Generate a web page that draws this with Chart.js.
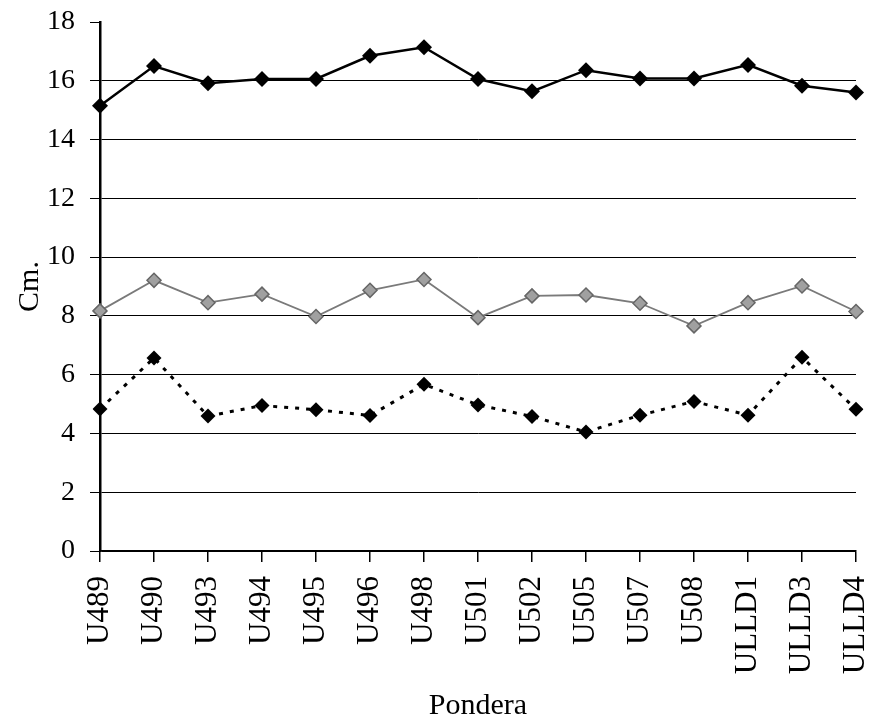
<!DOCTYPE html>
<html>
<head>
<meta charset="utf-8">
<script src="https://cdn.jsdelivr.net/npm/chart.js@4"></script>
<style>
  html, body { margin: 0; padding: 0; background: #fff; }
  #wrap { width: 871px; height: 727px; }
</style>
</head>
<body>
<div id="wrap"><canvas id="grafico"></canvas></div>
<script>
const categorias = ["U489", "U490", "U493", "U494", "U495", "U496", "U498", "U501",
  "U502", "U505", "U507", "U508", "ULLD1", "ULLD3", "ULLD4"];
const serieAlta = [15.15, 16.5, 15.92, 16.06, 16.06, 16.85, 17.14, 16.06,
  15.64, 16.36, 16.08, 16.08, 16.54, 15.83, 15.6];
const serieMedia = [8.17, 9.21, 8.45, 8.74, 7.98, 8.87, 9.24, 7.94,
  8.68, 8.71, 8.43, 7.66, 8.45, 9.02, 8.15];
const serieBaixa = [4.83, 6.57, 4.59, 4.95, 4.81, 4.61, 5.67, 4.97,
  4.58, 4.05, 4.62, 5.09, 4.62, 6.59, 4.82];
const ticksY = [0, 2, 4, 6, 8, 10, 12, 14, 16, 18];

const fonte = "'Liberation Serif', 'Times New Roman', serif";
const ctx = document.getElementById("grafico");

new Chart(ctx, {
  type: "line",
  data: {
    labels: categorias,
    datasets: [
      {
        label: "alta",
        data: serieAlta,
        borderColor: "#000",
        backgroundColor: "#000",
        borderWidth: 2.5,
        pointStyle: "rectRot",
        pointRadius: 8,
        pointBorderWidth: 0,
      },
      {
        label: "media",
        data: serieMedia,
        borderColor: "#7a7a7a",
        backgroundColor: "#a0a0a0",
        pointBorderColor: "#666",
        borderWidth: 1.8,
        pointStyle: "rectRot",
        pointRadius: 7,
        pointBorderWidth: 1.5,
      },
      {
        label: "baixa",
        data: serieBaixa,
        borderColor: "#000",
        backgroundColor: "#000",
        borderWidth: 3,
        borderDash: [4, 7],
        pointStyle: "rectRot",
        pointRadius: 7.5,
        pointBorderWidth: 0,
      },
    ],
  },
  options: {
    animation: false,
    responsive: true,
    maintainAspectRatio: false,
    layout: { padding: { left: 0, right: 15, top: 22, bottom: 0 } },
    plugins: {
      legend: { display: false },
      tooltip: { enabled: false },
    },
    scales: {
      x: {
        offset: false,
        grid: { drawOnChartArea: false, drawTicks: true, tickLength: 11, color: "#000", lineWidth: 1.5 },
        border: { color: "#000", width: 1.5 },
        ticks: {
          color: "#000",
          font: { family: fonte, size: 31 },
          minRotation: 90,
          maxRotation: 90,
          padding: 14,
          autoSkip: false,
        },
        title: {
          display: true,
          text: "Pondera",
          color: "#000",
          font: { family: fonte, size: 30 },
          padding: { top: 0, bottom: 3 },
        },
        afterFit: (scale) => {
          scale.height = 727 - 551;
          scale.paddingLeft = 0;
          scale.paddingRight = 0;
        },
      },
      y: {
        min: 0,
        max: 18,
        afterBuildTicks: (scale) => { scale.ticks = ticksY.map((v) => ({ value: v })); },
        grid: {
          // sem linha de grade no topo (18), só o traço do eixo
          color: (c) => (c.tick && c.tick.value === 18 ? "rgba(0,0,0,0)" : "#000"),
          tickColor: "#000",
          lineWidth: 1,
          tickLength: 10,
        },
        border: { color: "#000", width: 2.5 },
        ticks: {
          color: "#000",
          font: { family: fonte, size: 28 },
          padding: 15,
        },
        title: {
          display: true,
          text: "Cm.",
          color: "#000",
          font: { family: fonte, size: 30 },
          padding: { top: 12, bottom: 0 },
        },
        afterFit: (scale) => {
          scale.width = 100;
          scale.paddingTop = 0;
          scale.paddingBottom = 0;
        },
      },
    },
  },
});
</script>
</body>
</html>
